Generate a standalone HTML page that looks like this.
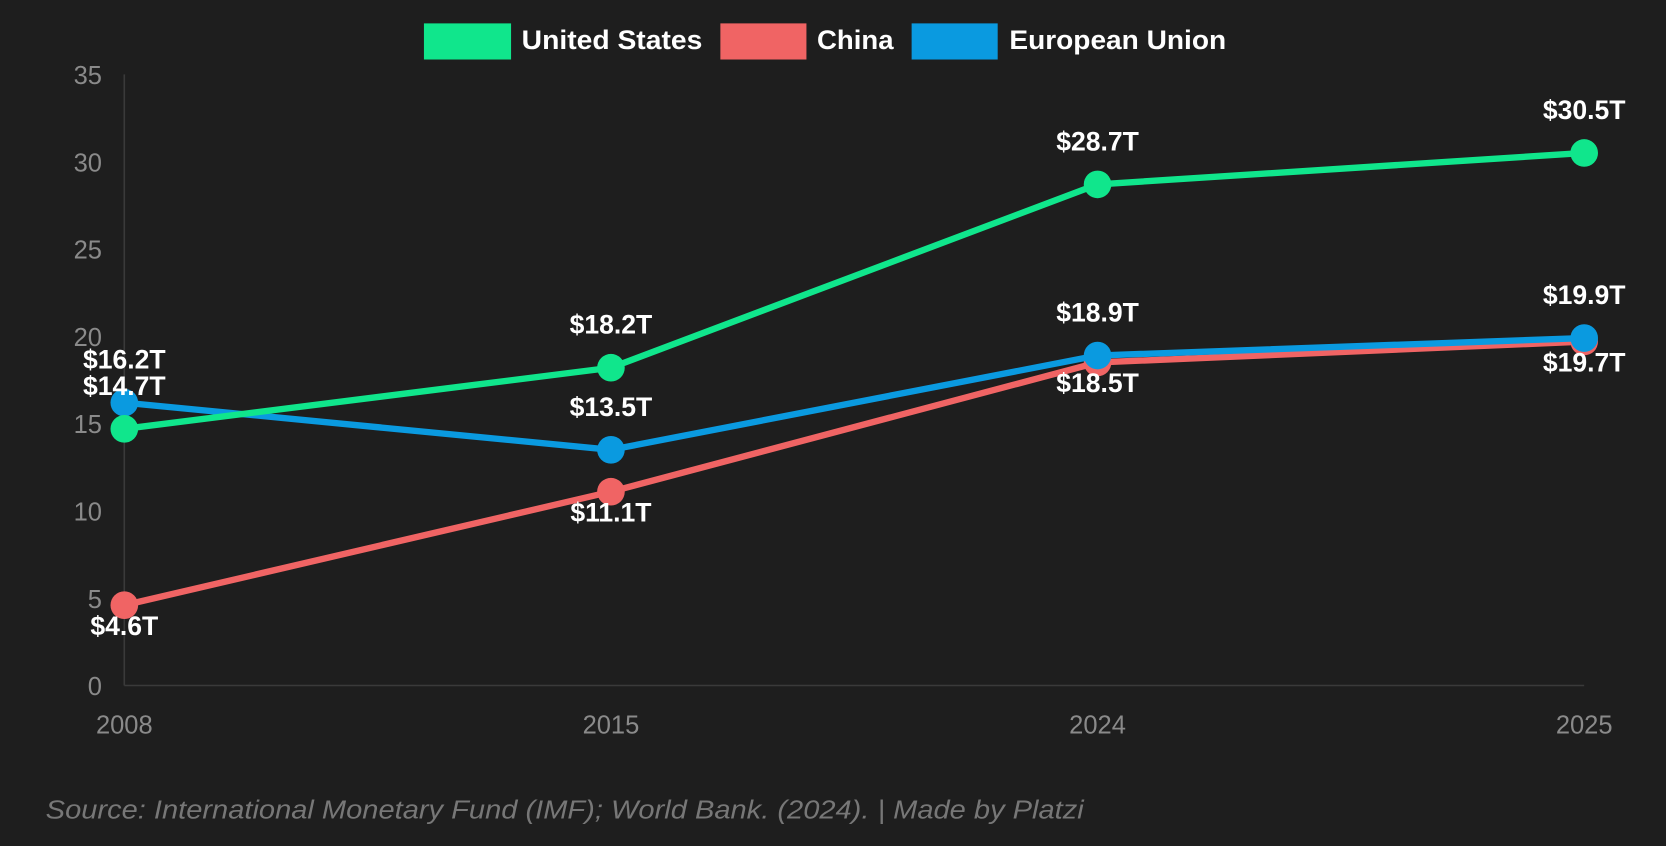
<!DOCTYPE html>
<html><head><meta charset="utf-8"><style>
html,body{margin:0;padding:0;background:#1e1e1e;}
svg{display:block;font-family:"Liberation Sans","DejaVu Sans",sans-serif;}
</style></head><body>
<svg id="chart" width="1666" height="846" viewBox="0 0 1568 796" preserveAspectRatio="none">
<rect width="1568" height="796" fill="#1e1e1e"/>
<g id="legend">
 <g><rect x="399" y="22" width="82" height="34" fill="#10e68c"/><text x="491" y="46" fill="#fff" font-size="25" font-weight="bold" textLength="170" lengthAdjust="spacingAndGlyphs">United States</text></g>
 <g><rect x="678" y="22" width="81" height="34" fill="#f06464"/><text x="769" y="46" fill="#fff" font-size="25" font-weight="bold" textLength="72" lengthAdjust="spacingAndGlyphs">China</text></g>
 <g><rect x="858" y="22" width="81" height="34" fill="#0a9ae0"/><text x="950" y="46" fill="#fff" font-size="25" font-weight="bold" textLength="204" lengthAdjust="spacingAndGlyphs">European Union</text></g>
</g>
<g id="axes"></g>
<g id="series"></g>
<g id="labels"></g>
<text x="43" y="770" fill="#777" font-size="24" font-style="italic" textLength="977" lengthAdjust="spacingAndGlyphs">Source: International Monetary Fund (IMF); World Bank. (2024). | Made by Platzi</text>
</svg>
<script>
const categories = ["2008","2015","2024","2025"];
const usValues = [14.7,18.2,28.7,30.5];
const chinaValues = [4.6,11.1,18.5,19.7];
const euValues = [16.2,13.5,18.9,19.9];
const yTicks = [0,5,10,15,20,25,30,35];

const NS="http://www.w3.org/2000/svg";
const x0=117,x1=1491,yBase=645,yTop=70,yMax=35;
function xs(i){return x0+(x1-x0)*i/(categories.length-1);}
function ys(v){return yBase-(yBase-yTop)*v/yMax;}
function mk(tag,attrs,parent){const e=document.createElementNS(NS,tag);for(const k in attrs)e.setAttribute(k,attrs[k]);parent.appendChild(e);return e;}
const axes=document.getElementById('axes'),series=document.getElementById('series'),labels=document.getElementById('labels');
let yl=mk('line',{x1:x0,y1:yTop,x2:x0,y2:yBase,stroke:'#3a3a3a','stroke-width':1.5},axes);


let xl=mk('line',{x1:x0,y1:yBase,x2:x1,y2:yBase,stroke:'#3a3a3a','stroke-width':1.5},axes);


yTicks.forEach(t=>{const e=mk('text',{x:96,y:ys(t)+9,'text-anchor':'end',fill:'#8a8a8a','font-size':24},axes);e.textContent=t;

});
categories.forEach((c,i)=>{const e=mk('text',{x:xs(i),y:690,'text-anchor':'middle',fill:'#8a8a8a','font-size':24},axes);e.textContent=c;

});
function drawSeries(vals,color,name,labelPos){
 const g=mk('g',{},series);
 
 
 const p=mk('polyline',{points:vals.map((v,i)=>xs(i)+','+ys(v)).join(' '),fill:'none',stroke:color,'stroke-width':6,'stroke-linejoin':'round'},g);
 
 
 vals.forEach((v,i)=>{const c=mk('circle',{cx:xs(i),cy:ys(v),r:13,fill:color},g);
  
  
  const dy=labelPos[i]==='above'?-32:28;
  const t=mk('text',{x:xs(i),y:ys(v)+dy,'text-anchor':'middle',fill:'#fff','font-size':25,'font-weight':'bold'},labels);
  t.textContent='$'+v.toFixed(1)+'T';
  
  });
}
drawSeries(chinaValues,'#f06464','china',['below','below','below','below']);
drawSeries(euValues,'#0a9ae0','european-union',['above','above','above','above']);
drawSeries(usValues,'#10e68c','united-states',['above','above','above','above']);
</script>
</body></html>
